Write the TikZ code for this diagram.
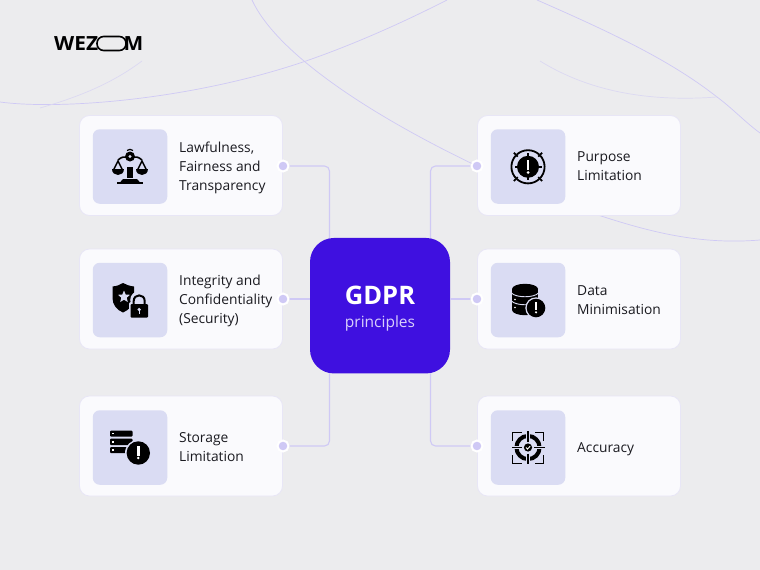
\documentclass[tikz,border=0pt]{standalone}
\usepackage{fontspec}
\setmainfont{Open Sans}
\usetikzlibrary{calc}
\definecolor{bgc}{HTML}{ECECEE}
\definecolor{cardc}{HTML}{FAFAFD}
\definecolor{cardb}{HTML}{E8E6F6}
\definecolor{iconbg}{HTML}{DADCF3}
\definecolor{mainc}{HTML}{3F10E0}
\definecolor{linec}{HTML}{CFC9F5}
\definecolor{txtc}{HTML}{1A1A20}
\definecolor{subc}{HTML}{D8D0FB}
\tikzset{
  card/.style={draw=cardb,line width=0.8pt,fill=cardc,rounded corners=10pt,minimum width=203pt,minimum height=100pt,inner sep=0pt},
  iconbox/.style={fill=iconbg,rounded corners=7pt,minimum width=74.5pt,minimum height=74.5pt,inner sep=0pt},
  label/.style={anchor=west,align=left,inner sep=0pt,text=txtc,font=\fontsize{13.8}{19}\selectfont},
  dot/.style={circle,fill=linec,draw=white,line width=2pt,minimum size=11pt,inner sep=0pt},
  conn/.style={draw=linec,line width=1.1pt,rounded corners=5pt},
  bgcurve/.style={draw=linec,line width=0.7pt},
  fadecurve/.style={draw=linec!55!bgc,line width=0.7pt},
  logo/.style={font=\fontsize{19.5}{20}\selectfont\bfseries,text=black,inner sep=0pt,xscale=1.07,transform shape},
}
\begin{document}
\begin{tikzpicture}[x=1pt,y=-1pt]
\path[use as bounding box,fill=bgc] (0,0) rectangle (760,570);
% background curves
\draw[bgcurve] (0,102) .. controls (60,110) and (190,100) .. (303,62) .. controls (350,46) and (400,24) .. (447,0);
\draw[bgcurve] (252,0) .. controls (275,50) and (360,110) .. (477,166);
\draw[bgcurve] (598,215) .. controls (650,232) and (700,245) .. (760,240);
\draw[bgcurve] (537,0) .. controls (610,32) and (670,60) .. (717,97) .. controls (732,108) and (745,122) .. (760,133);
\draw[fadecurve] (540,61) .. controls (590,92) and (650,102) .. (717,97);
\draw[fadecurve] (142,61) .. controls (110,85) and (75,98) .. (40,108);
% logo
\node[logo,anchor=west] (lw) at (54,43.5) {WEZ};
\node[logo,anchor=east] (lm) at (143.5,43.5) {M};
\node[draw=black,line width=1.6pt,rounded corners=6.7pt,minimum width=29pt,minimum height=14pt,inner sep=0pt] (lo) at (111.5,43.5) {};
% cards
\node[card] (c1) at (181,165.5) {};
\node[card] (c2) at (181,299) {};
\node[card] (c3) at (181,446) {};
\node[card] (c4) at (579,165.5) {};
\node[card] (c5) at (579,299) {};
\node[card] (c6) at (579,446) {};
\node[iconbox] (i1) at (130,166.5) {};
\node[iconbox] (i2) at (130,300) {};
\node[iconbox] (i3) at (130,447.5) {};
\node[iconbox] (i4) at (528,166.5) {};
\node[iconbox] (i5) at (528,300) {};
\node[iconbox] (i6) at (528,447.5) {};
\node[label] (t1) at (179,168) {Lawfulness,\\Fairness and\\Transparency};
\node[label] (t2) at (179,300.5) {Integrity and\\Confidentiality\\(Security)};
\node[label] (t3) at (179,447.5) {Storage\\Limitation};
\node[label] (t4) at (577,166.5) {Purpose\\Limitation};
\node[label] (t5) at (577,300.5) {Data\\Minimisation};
\node[label] (t6) at (577,449) {Accuracy};
% centre
\node[fill=mainc,rounded corners=24pt,minimum width=140pt,minimum height=135.5pt,inner sep=0pt] (gdpr) at (380,305.7) {};
\node[inner sep=0pt,text=white,font=\fontsize{25.5}{26}\selectfont\bfseries] (g1) at (380,295) {GDPR};
\node[inner sep=0pt,text=subc,font=\fontsize{15.5}{16}\selectfont] (g2) at (380,323) {principles};
% dots
\coordinate (d1p) at (283,166);\coordinate (d2p) at (283,299);\coordinate (d3p) at (283,446);
\coordinate (d4p) at (477,166);\coordinate (d5p) at (477,299);\coordinate (d6p) at (477,446);
\draw[conn] (d1p) -- (329.5,166) -- (329.5,238.2);
\draw[conn] (d2p) -- (gdpr.west |- d2p);
\draw[conn] (d3p) -- (329.5,446) -- (329.5,373.3);
\draw[conn] (d4p) -- (430.5,166) -- (430.5,238.2);
\draw[conn] (d5p) -- (gdpr.east |- d5p);
\draw[conn] (d6p) -- (430.5,446) -- (430.5,373.3);
\node[dot] (d1) at (d1p) {};\node[dot] (d2) at (d2p) {};\node[dot] (d3) at (d3p) {};
\node[dot] (d4) at (d4p) {};\node[dot] (d5) at (d5p) {};\node[dot] (d6) at (d6p) {};
% scales icon
\fill[black] (117,181.8) rectangle (143,184.3);
\fill[black] (120.5,181.8) -- (123,179) -- (137,179) -- (139.5,181.8) -- cycle;
\fill[black] (127.2,166.5) rectangle (132.8,178);
\fill[black] (130,156.5) circle (5);
\fill[iconbg] (130,156.5) circle (1.6);
\draw[black,line width=1.2pt] (127,150.5) .. controls (129,149) and (131,149) .. (133,150.5);
\draw[black,line width=1.6pt] (118,160) .. controls (122,156.5) and (124,157) .. (126,157);
\draw[black,line width=1.6pt] (142,160) .. controls (138,156.5) and (136,157) .. (134,157);
\draw[black,line width=1.5pt] (113.5,170) -- (118,161) -- (122.5,170);
\draw[black,line width=1.5pt] (137.5,170) -- (142,161) -- (146.5,170);
\fill[black] (112,169) .. controls (112,177) and (124,177) .. (124,169) -- cycle;
\fill[black] (136,169) .. controls (136,177) and (148,177) .. (148,169) -- cycle;
% shield icon
\fill[black] (112.5,286.5) .. controls (118,286) and (120,284.5) .. (123,283) .. controls (126,284.5) and (129,286) .. (134,286.5) -- (134,298) .. controls (134,305) and (129,310) .. (123,312.5) .. controls (117,310) and (112.5,305) .. (112.5,298) -- cycle;
\fill[iconbg] (124,290.5) -- (125.7,294.5) -- (130,294.8) -- (126.7,297.7) -- (127.8,302) -- (124,299.7) -- (120.2,302) -- (121.3,297.7) -- (118,294.8) -- (122.3,294.5) -- cycle;
\fill[iconbg,rounded corners=2pt] (129,302) rectangle (150,319);
\fill[iconbg] (139.2,300) circle (9);
\fill[black,rounded corners=1pt] (130.5,304) rectangle (148,317.5);
\draw[black,line width=2pt] (133.7,305) -- (133.7,301) .. controls (133.7,293.5) and (144.7,293.5) .. (144.7,301) -- (144.7,305);
\fill[iconbg] (139.2,309.5) circle (1.8);
\fill[iconbg] (138.5,309.5) rectangle (140,314);
% storage icon
\fill[black,rounded corners=1pt] (110,430.5) rectangle (132.5,436.5);
\fill[black,rounded corners=1pt] (110,438.7) rectangle (132.5,445);
\fill[black,rounded corners=1pt] (110,447) rectangle (128,453.2);
\foreach \yy in {433.5,441.8,450}{\fill[white] (112,\yy-0.8) rectangle (114,\yy+0.8);}
\fill[iconbg] (138.3,453) circle (13.3);
\fill[black] (138.3,453) circle (11.7);
\fill[white] (137.1,446) rectangle (139.5,455.5);
\fill[white] (138.3,458) circle (1.4);
% purpose icon
\draw[black,line width=1.8pt] (528,166.8) circle (16.6);
\fill[black] (528,166.8) circle (11);
\foreach \a in {0,90,180,270}{\draw[black,line width=1.8pt,shift={(528,166.8)}] (\a:10) -- (\a:13.5);}
\foreach \a in {45,135,225,315}{\draw[iconbg,line width=1.2pt,shift={(528,166.8)}] (\a:11.5) -- (\a:20);\draw[black,line width=1.8pt,shift={(528,166.8)}] (\a:14.5) -- (\a:20);}
\fill[white] (526.7,159.5) rectangle (529.3,169.5);
\fill[white] (528,172.5) circle (1.5);
% data icon
\fill[black] (512,289) rectangle (538,310);
\fill[black] (525,289) ellipse (13 and 5.2);
\fill[black] (525,310) ellipse (13 and 5.2);
\draw[iconbg,line width=0.9pt] (511.5,293) .. controls (516,298) and (534,298) .. (538.5,293);
\draw[iconbg,line width=0.9pt] (511.5,301) .. controls (516,306) and (534,306) .. (538.5,301);
\fill[white] (515,299.5) circle (0.8);\fill[white] (515,307.5) circle (0.8);
\fill[iconbg] (536,308) circle (10.7);
\fill[black] (536,308) circle (9.3);
\fill[white] (534.9,302.3) rectangle (537.1,310.2);
\fill[white] (536,312.3) circle (1.2);
% accuracy icon
\draw[black,line width=4pt] (528,447.5) circle (11.6);
\draw[iconbg,line width=3.5pt] (508,447.5) -- (548,447.5);
\draw[iconbg,line width=3.5pt] (528,428) -- (528,467);
\fill[black] (528,447.5) circle (4.1);
\draw[white,line width=0.9pt] (526,447.5) -- (527.5,449.1) -- (530.2,446.1);
\draw[black,line width=1.2pt] (512,447.5) -- (522,447.5);
\draw[black,line width=1.2pt] (534,447.5) -- (544.5,447.5);
\draw[black,line width=1.2pt] (528,431) -- (528,441.5);
\draw[black,line width=1.2pt] (528,453.5) -- (528,464);
\draw[black,line width=0.9pt] (512.5,441) -- (512.5,432) -- (521.5,432);
\draw[black,line width=0.9pt] (543.7,441) -- (543.7,432) -- (534.5,432);
\draw[black,line width=0.9pt] (512.5,455) -- (512.5,463) -- (521.5,463);
\draw[black,line width=0.9pt] (543.7,455) -- (543.7,463) -- (534.5,463);
\end{tikzpicture}
\end{document}
